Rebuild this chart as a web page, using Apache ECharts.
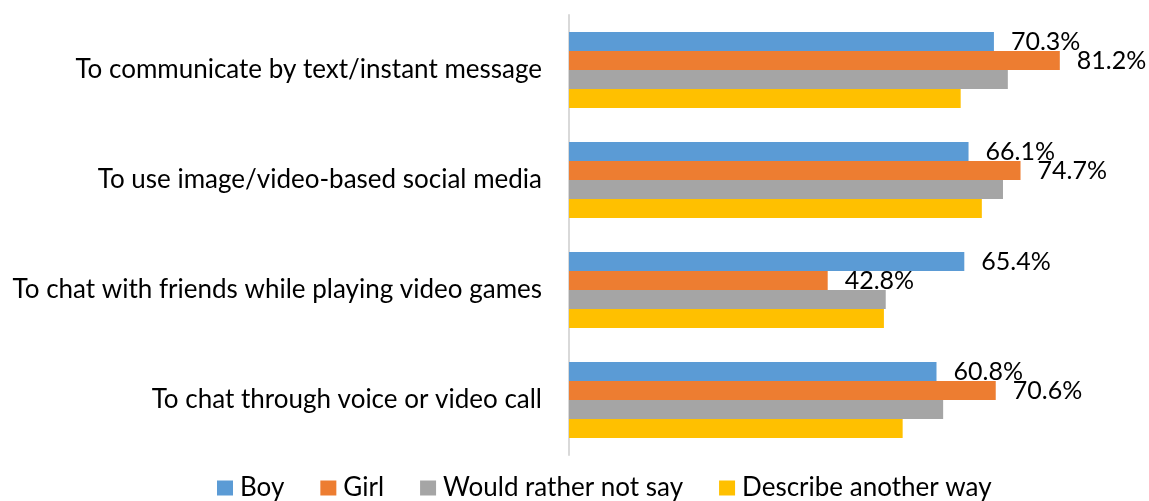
<!DOCTYPE html>
<html>
<head>
<meta charset="utf-8">
<script src="https://cdn.jsdelivr.net/npm/echarts@6/dist/echarts.min.js"></script>
<style>
html,body{margin:0;padding:0;background:#fff;}
#chart{width:1149px;height:501px;}
</style>
</head>
<body>
<div id="chart"></div>
<script>
const categories = [
  "To communicate by text/instant message",
  "To use image/video-based social media",
  "To chat with friends while playing video games",
  "To chat through voice or video call"
];
const seriesNames = ["Boy", "Girl", "Would rather not say", "Describe another way"];
const boy = [70.3, 66.1, 65.4, 60.8];
const girl = [81.2, 74.7, 42.8, 70.6];
const ratherNotSay = [72.6, 71.8, 52.4, 61.9];
const anotherWay = [64.8, 68.3, 52.1, 55.2];
const colors = ["#5B9BD5", "#ED7D31", "#A5A5A5", "#FFC000"];
const showLabels = [true, true, false, false];
const allData = [boy, girl, ratherNotSay, anotherWay];

const FONT = "Lato";
const chart = echarts.init(document.getElementById('chart'));
const series = seriesNames.map((name, i) => ({
  name: name,
  type: 'bar',
  data: allData[i],
  barWidth: 19,
  barGap: '0%',
  itemStyle: { color: colors[i] },
  label: {
    show: showLabels[i],
    position: 'right',
    distance: 17,
    color: '#000',
    fontFamily: FONT,
    fontSize: 25,
    formatter: p => p.value.toFixed(1) + '%'
  },
  emphasis: { disabled: true }
}));

chart.setOption({
  animation: false,
  textStyle: { fontFamily: FONT },
  grid: { left: 569, top: 15, width: 544, height: 440, containLabel: false },
  xAxis: {
    type: 'value', min: 0, max: 90,
    show: false,
    splitLine: { show: false }
  },
  yAxis: {
    type: 'category',
    data: categories,
    inverse: true,
    axisLine: { show: true, lineStyle: { color: '#D9D9D9', width: 2 } },
    axisTick: { show: false },
    axisLabel: { color: '#000', fontSize: 26, fontFamily: FONT, margin: 27 }
  },
  legend: {
    data: seriesNames,
    left: 212,
    top: 470,
    icon: 'rect',
    itemWidth: 16,
    itemHeight: 15,
    itemGap: 36,
    textStyle: { color: '#000', fontSize: 26, fontFamily: FONT, padding: [0, 0, 0, 2] }
  },
  series: series
});
</script>
</body>
</html>
